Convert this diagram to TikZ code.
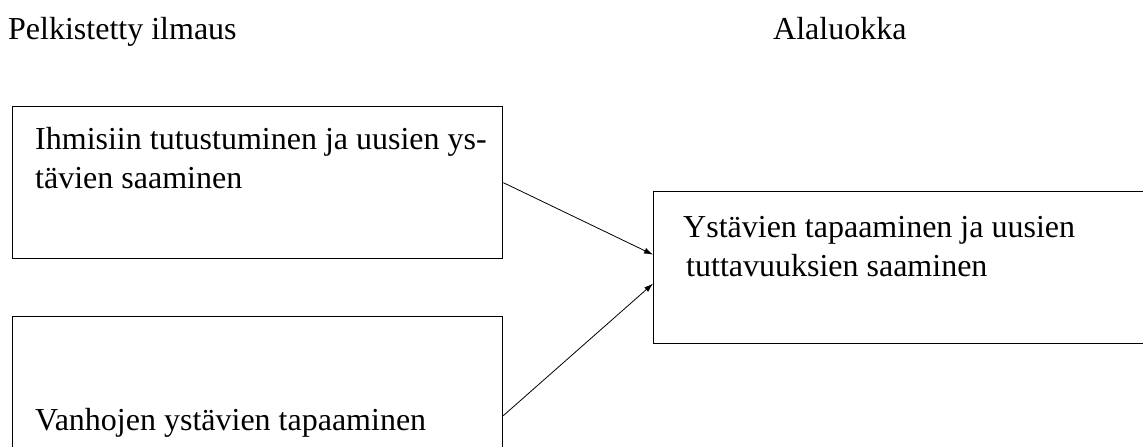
\documentclass[tikz,border=0pt]{standalone}
\usepackage{fontspec}
\setmainfont{Liberation Serif}
\usetikzlibrary{arrows.meta}

\begin{document}
\begin{tikzpicture}[x=1pt,y=-1pt,
    box/.style={draw, line width=1.3pt, minimum width=490pt, anchor=north west, inner sep=0pt},
    txt/.style={anchor=north west, align=left, inner sep=0pt, font=\fontsize{32}{39}\selectfont},
    link/.style={-{Latex[length=9pt,width=6pt]}, line width=0.8pt}]
    \useasboundingbox (0,0) rectangle (1143,447);
    % headings
    \node[txt] (pelk) at (8,17) {Pelkistetty ilmaus};
    \node[txt] (alal) at (773,17) {Alaluokka};
    % boxes
    \node[box, minimum height=152pt] (ihm) at (12,106) {};
    \node[box, minimum height=198pt] (vanh) at (12,316) {};
    \node[box, minimum height=152pt, minimum width=520pt] (ystv) at (653,191) {};
    % box texts
    \node[txt] (ihmt) at (35,127) {Ihmisiin tutustuminen ja uusien ys-\\tävien saaminen};
    \node[txt] (vanht) at (35,408) {Vanhojen ystävien tapaaminen};
    \node[txt] (ystvt) at (683,216) {Ystävien tapaaminen ja uusien\\\hspace*{3pt}tuttavuuksien saaminen};

    \draw[link] (ihm.east) -- ([yshift=13pt]ystv.west);
    \draw[link] (vanh.east) -- ([yshift=-16pt]ystv.west);
\end{tikzpicture}
\end{document}
